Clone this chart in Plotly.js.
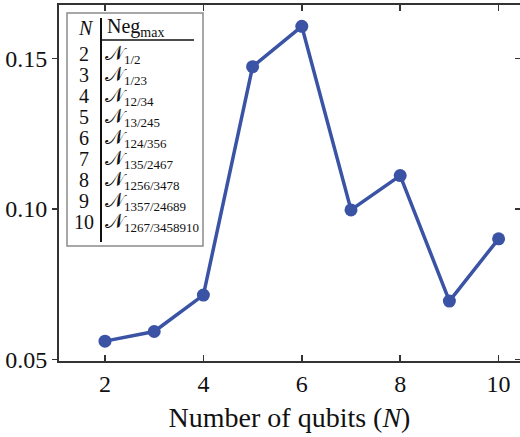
<!DOCTYPE html>
<html>
<head>
<meta charset="utf-8">
<script src="https://cdn.plot.ly/plotly-3.0.1.min.js"></script>
<style>html,body{margin:0;padding:0;background:#fff;}#chart{width:520px;height:437px;}</style>
</head>
<body>
<div id="chart"></div>
<script>
// Data
const qubits = [2, 3, 4, 5, 6, 7, 8, 9, 10];
const negMax = [0.0561, 0.0593, 0.0714, 0.1473, 0.1607, 0.0997, 0.1111, 0.0694, 0.0901];
const tableN = ['2', '3', '4', '5', '6', '7', '8', '9', '10'];
const tableSub = ['1/2', '1/23', '12/34', '13/245', '124/356', '135/2467', '1256/3478', '1357/24689', '1267/3458910'];
const xTicks = [2, 4, 6, 8, 10];
const yTicks = [0.05, 0.10, 0.15];
const yTickText = ['0.05', '0.10', '0.15'];

const W = 520, H = 437;
const M = {l: 59, r: 0, t: 5, b: 76};
const pw = W - M.l - M.r, ph = H - M.t - M.b;
// pixel -> paper helpers for the inset table
const px = x => (x - M.l) / pw;
const py = y => 1 - (y - M.t) / ph;

const serif = 'Liberation Serif, Times New Roman, serif';
const frame = '#333333';

const shapes = [
  // table box
  {type: 'rect', xref: 'paper', yref: 'paper', x0: px(67), x1: px(203), y0: py(13), y1: py(246),
   line: {color: '#8a8a8a', width: 1.5}, fillcolor: 'white', layer: 'above'},
  // vertical separator
  {type: 'line', xref: 'paper', yref: 'paper', x0: px(101), x1: px(101), y0: py(18), y1: py(242),
   line: {color: '#111', width: 2}, layer: 'above'},
  // header rule
  {type: 'line', xref: 'paper', yref: 'paper', x0: px(101), x1: px(194), y0: py(40), y1: py(40),
   line: {color: '#111', width: 1.5}, layer: 'above'}
];

const tf = {family: serif, size: 20, color: '#111'};
const annotations = [
  {xref: 'paper', yref: 'paper', x: px(86), y: py(28), text: '<i>N</i>', showarrow: false,
   xanchor: 'center', yanchor: 'middle', font: tf},
  {xref: 'paper', yref: 'paper', x: px(105), y: py(28), text: 'Neg<sub>max</sub>', showarrow: false,
   xanchor: 'left', yanchor: 'middle', font: tf}
];
tableN.forEach((n, i) => {
  const yy = 53.5 + i * 21.05;
  annotations.push({xref: 'paper', yref: 'paper', x: px(84), y: py(yy), text: n, showarrow: false,
    xanchor: 'center', yanchor: 'middle', font: tf});
  annotations.push({xref: 'paper', yref: 'paper', x: px(103), y: py(yy + 1),
    text: '𝒩<sub><span style="font-size:13px">' + tableSub[i] + '</span></sub>', showarrow: false,
    xanchor: 'left', yanchor: 'middle', font: tf});
});

const xr = [1.065, 10.435];
const yr = [0.0495, 0.16778];

const data = [
  {x: qubits, y: negMax, type: 'scatter', mode: 'lines+markers',
   line: {color: '#3a53a5', width: 3.5}, marker: {color: '#3a53a5', size: 13},
   hoverinfo: 'x+y', showlegend: false},
  {x: [], y: [], xaxis: 'x2', yaxis: 'y2', type: 'scatter', mode: 'markers', showlegend: false, hoverinfo: 'skip'}
];

const layout = {
  width: W, height: H,
  margin: M,
  paper_bgcolor: 'white', plot_bgcolor: 'white',
  showlegend: false,
  font: {family: serif, color: '#111'},
  xaxis: {
    range: xr, tickvals: xTicks, ticks: 'inside', ticklen: 6, tickwidth: 1.5, tickcolor: frame,
    showline: true, linecolor: frame, linewidth: 2, showgrid: false, zeroline: false,
    tickfont: {family: serif, size: 24, color: '#111'},
    title: {text: 'Number of qubits (<i>N</i>)', font: {family: serif, size: 28, color: '#111'}, standoff: 12}
  },
  xaxis2: {
    overlaying: 'x', side: 'top', range: xr, tickvals: xTicks, ticks: 'inside', ticklen: 6, tickwidth: 1.5,
    tickcolor: frame, showticklabels: false, showline: true, linecolor: frame, linewidth: 2,
    showgrid: false, zeroline: false
  },
  yaxis: {
    range: yr, tickvals: yTicks, ticktext: yTickText, ticks: 'outside', ticklen: 5, tickwidth: 1.5, tickcolor: frame,
    showline: true, linecolor: frame, linewidth: 2, showgrid: false, zeroline: false,
    tickfont: {family: serif, size: 24, color: '#111'}
  },
  yaxis2: {
    overlaying: 'y', side: 'right', range: yr, tickvals: yTicks, ticks: 'inside', ticklen: 5, tickwidth: 1.5,
    tickcolor: frame, showticklabels: false, showline: false, showgrid: false, zeroline: false
  },
  shapes: shapes,
  annotations: annotations
};

Plotly.newPlot('chart', data, layout, {displayModeBar: false, staticPlot: true});
</script>
</body>
</html>
